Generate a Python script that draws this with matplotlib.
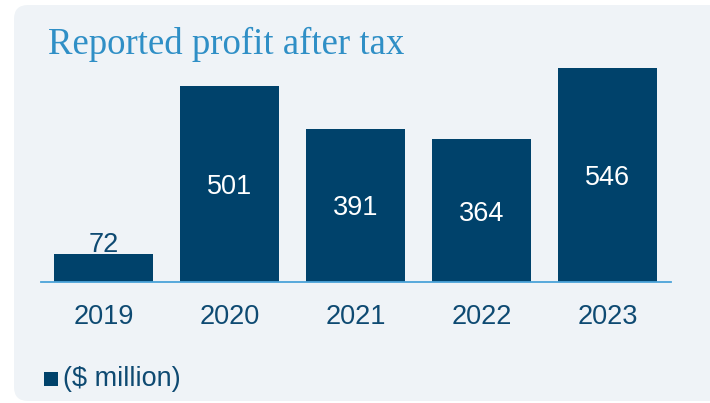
import matplotlib
matplotlib.use("Agg")
import matplotlib.pyplot as plt
from matplotlib.patches import FancyBboxPatch, Rectangle
from matplotlib.transforms import IdentityTransform, offset_copy

# Reported profit after tax, $ million
years = ["2019", "2020", "2021", "2022", "2023"]
profit = [72, 501, 391, 364, 546]

NAVY = "#00426B"
TEXT = "#0E4A72"
TITLE = "#2F8FC6"
LINE = "#4BA3D9"
PANEL = "#EFF3F7"
FS = 19.5

W, H = 710, 403
fig = plt.figure(figsize=(W / 100, H / 100), dpi=100)
fig.patch.set_facecolor("white")

# rounded background panel (pixel coordinates)
panel = FancyBboxPatch((14, 2), 740, 396,
                       boxstyle="round,pad=0,rounding_size=14",
                       transform=IdentityTransform(),
                       facecolor=PANEL, edgecolor="none", zorder=-5)
fig.patches.append(panel)

ax = fig.add_axes([40.5 / W, (H - 282) / H, 630 / W, 222 / H])
ax.set_zorder(2)
ax.set_facecolor("none")
x = range(len(years))
bars = ax.bar(x, profit, width=0.786, color=NAVY, zorder=2)
ax.set_xlim(-0.5, 4.5)
ax.set_ylim(0, 222 / 0.392)

for s in ["top", "right", "left"]:
    ax.spines[s].set_visible(False)
ax.spines["bottom"].set_color(LINE)
ax.spines["bottom"].set_linewidth(1.3)
ax.spines["bottom"].set_zorder(3)
ax.set_yticks([])
ax.set_xticks(list(x))
ax.set_xticklabels(years, fontsize=FS, color=TEXT, family="Liberation Sans")
ax.tick_params(axis="x", length=0, pad=16)

above = offset_copy(ax.transData, fig=fig, x=0, y=2, units="dots")
for i, v in enumerate(profit):
    if v < 150:
        ax.text(i, v, str(v), ha="center", va="baseline", fontsize=FS,
                color=TEXT, family="Liberation Sans", transform=above)
    else:
        ax.text(i, v / 2, str(v), ha="center", va="center_baseline", fontsize=FS,
                color="white", family="Liberation Sans")

fig.text(48 / W, 1 - 44 / H, "Reported profit after tax", ha="left", va="center",
         fontsize=26.5, color=TITLE, family="Liberation Serif", zorder=3)

# legend
fig.patches.append(Rectangle((44, H - 386), 14, 14, transform=IdentityTransform(),
                             facecolor=NAVY, edgecolor="none", zorder=3))
fig.text(63 / W, 1 - 379 / H, "($ million)", ha="left", va="center",
         fontsize=FS, color=TEXT, family="Liberation Sans", zorder=3)

fig.savefig("out.png", dpi=100, facecolor=fig.get_facecolor())
